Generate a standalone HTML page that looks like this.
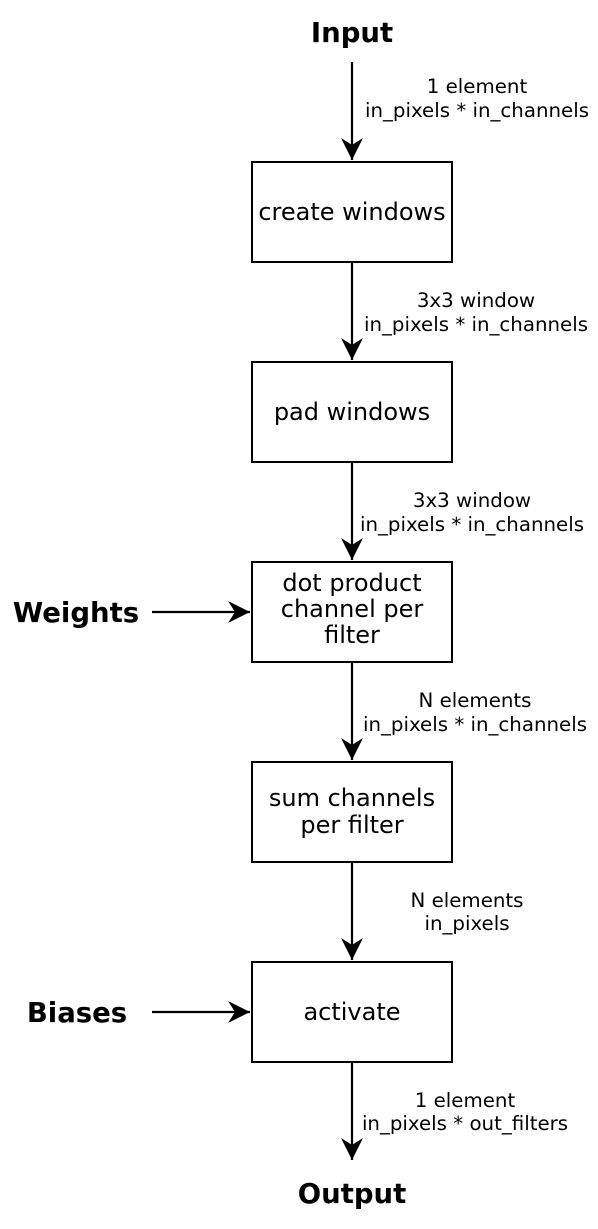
<!DOCTYPE html>
<html><head><style>body{margin:0;background:#fff}</style></head><body>
<svg width="598" height="1224" xmlns="http://www.w3.org/2000/svg" font-family="DejaVu Sans, Liberation Sans, sans-serif">
<defs><marker id="a" markerWidth="24" markerHeight="24" refX="22" refY="11" orient="auto" markerUnits="userSpaceOnUse"><path d="M0,0 L22,11 L0,22 L7,11 Z" fill="#000"/></marker></defs>
<g fill="#fff" stroke="#000" stroke-width="2">
<rect x="252" y="162" width="200" height="100"/>
<rect x="252" y="362" width="200" height="100"/>
<rect x="252" y="562" width="200" height="100"/>
<rect x="252" y="762" width="200" height="100"/>
<rect x="252" y="962" width="200" height="100"/>
</g>
<g stroke="#000" stroke-width="2.2" marker-end="url(#a)">
<line x1="352" y1="62" x2="352" y2="160"/>
<line x1="352" y1="262" x2="352" y2="360"/>
<line x1="352" y1="462" x2="352" y2="560"/>
<line x1="352" y1="662" x2="352" y2="760"/>
<line x1="352" y1="862" x2="352" y2="960"/>
<line x1="352" y1="1062" x2="352" y2="1160"/>
<line x1="152" y1="612" x2="250" y2="612"/>
<line x1="152" y1="1012" x2="250" y2="1012"/>
</g>
<g font-weight="bold" font-size="27.5" text-anchor="middle">
<text x="352" y="42">Input</text>
<text x="352" y="1203">Output</text>
<text x="76" y="622">Weights</text>
<text x="77" y="1022">Biases</text>
</g>
<g font-size="24" text-anchor="middle">
<text x="352" y="220">create windows</text>
<text x="352" y="420">pad windows</text>
<text x="352" y="591">dot product</text>
<text x="352" y="617">channel per</text>
<text x="352" y="643">filter</text>
<text x="352" y="806">sum channels</text>
<text x="352" y="833">per filter</text>
<text x="352" y="1020">activate</text>
</g>
<g font-size="19.8" text-anchor="middle">
<text x="477" y="93">1 element</text><text x="477" y="117">in_pixels * in_channels</text>
<text x="476" y="307">3x3 window</text><text x="476" y="331">in_pixels * in_channels</text>
<text x="472" y="507">3x3 window</text><text x="472" y="531">in_pixels * in_channels</text>
<text x="475" y="707">N elements</text><text x="475" y="731">in_pixels * in_channels</text>
<text x="467" y="907">N elements</text><text x="467" y="930">in_pixels</text>
<text x="465" y="1107">1 element</text><text x="465" y="1130">in_pixels * out_filters</text>
</g>
</svg>
</body></html>
